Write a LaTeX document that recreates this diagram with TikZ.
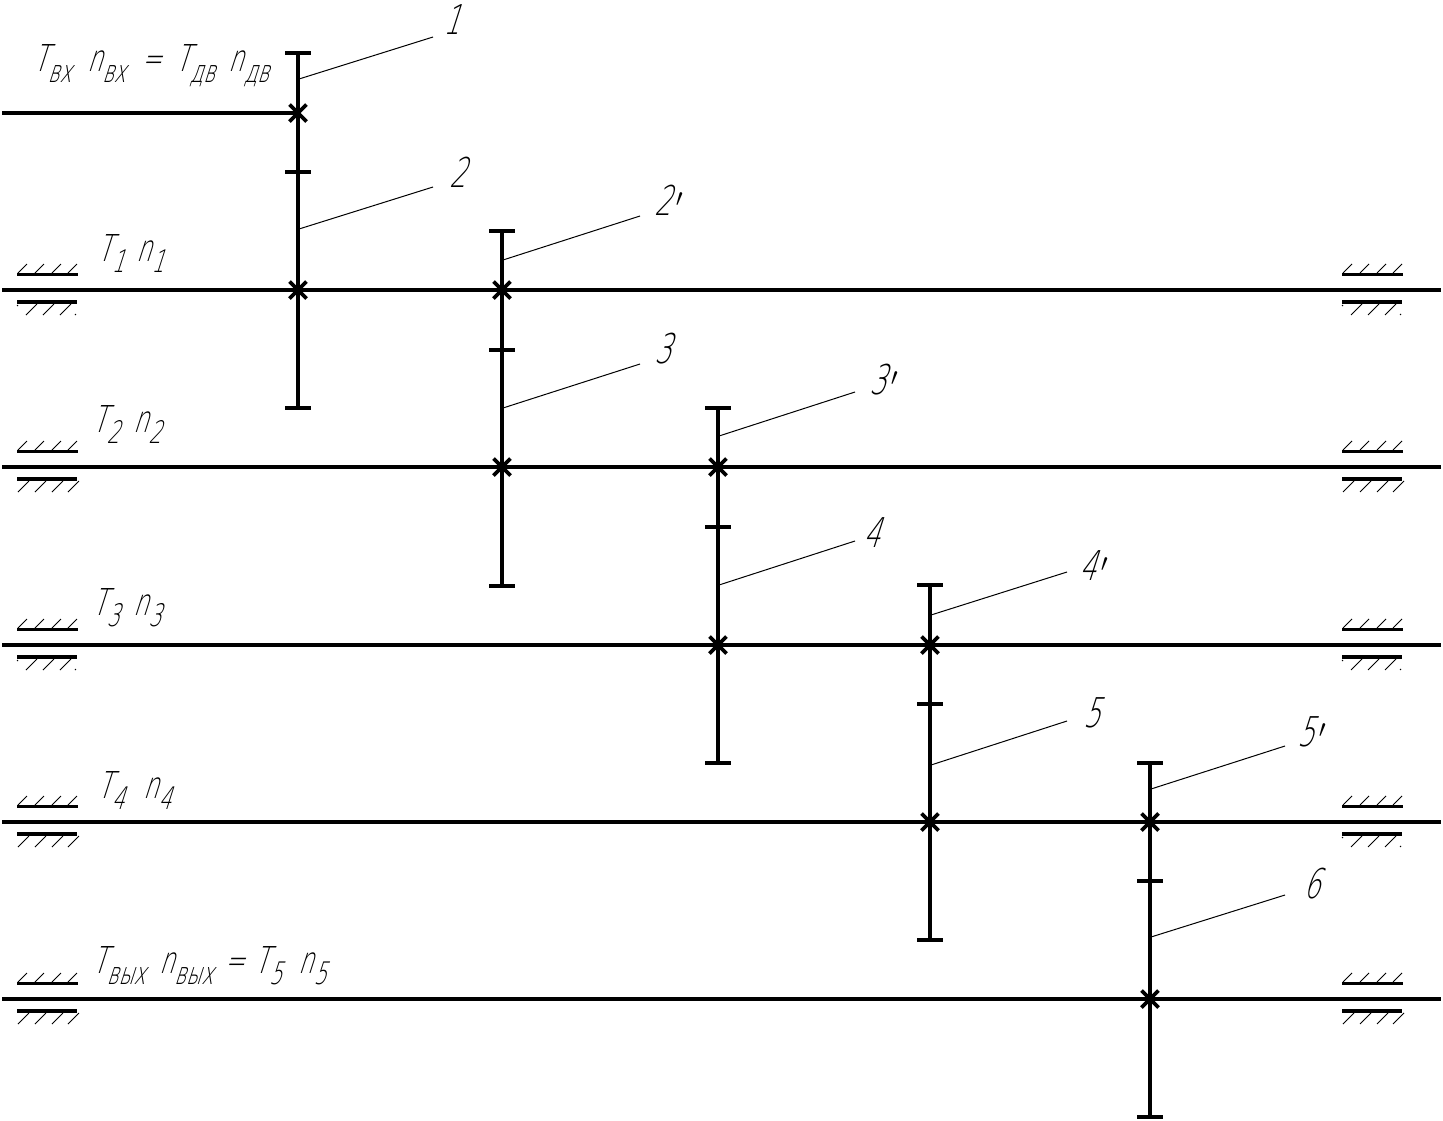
\documentclass[tikz,border=0pt]{standalone}
\usepackage{fontspec}
\newfontfamily\gost[FakeSlant=0.32,FakeStretch=0.64]{DejaVu Sans ExtraLight}
\newcommand{\mainsz}{\fontsize{37}{37}\selectfont}
\newcommand{\subsz}[1]{\raisebox{-11pt}{\fontsize{31}{31}\selectfont #1}}
\newcommand{\prm}{\kern5pt$'$}
\tikzset{
 shaftline/.style={line width=3.4pt},
 gearline/.style={line width=3.4pt},
 crossline/.style={line width=3.8pt},
 leaderline/.style={line width=1pt},
 hatchline/.style={line width=1pt},
 numlabel/.style={font=\gost\fontsize{41}{41}\selectfont,inner sep=0pt,anchor=west},
 shaftlabel/.style={font=\gost\mainsz,inner sep=0pt,anchor=west},
}
% cross mark at a coordinate
\newcommand{\crossmark}[1]{\draw[crossline] ([shift={(-8.5,-8.5)}]#1) -- ([shift={(8.5,8.5)}]#1) ([shift={(-8.5,8.5)}]#1) -- ([shift={(8.5,-8.5)}]#1);}
% gear: name, x, top, tick, bottom, y1
\newcommand{\gear}[6]{%
 \coordinate (#1t) at (#2,#3); \coordinate (#1k) at (#2,#4); \coordinate (#1b) at (#2,#5);
 \coordinate (#1u) at (#2,#6);
 \draw[gearline] (#1t) -- (#1b);
 \draw[gearline] ([xshift=-13pt]#1t) -- ([xshift=13pt]#1t);
 \draw[gearline] ([xshift=-13pt]#1k) -- ([xshift=13pt]#1k);
 \draw[gearline] ([xshift=-13pt]#1b) -- ([xshift=13pt]#1b);
}
% leader: name, start x, start y, end x, end y
\newcommand{\leader}[5]{\coordinate (#1s) at (#2,#3); \coordinate (#1e) at (#4,#5); \draw[leaderline] (#1s) -- (#1e);}
% bearing bars and upper hatching: x left, shaft y
\newcommand{\bearingbase}[2]{%
 \draw[line width=3.2pt] (#1,#2-15.5) -- (#1+61,#2-15.5);
 \draw[line width=3.2pt] (#1,#2+12) -- (#1+60,#2+12);
 \foreach \d in {1,18,35,51}{
  \draw[hatchline] (#1+\d,#2-17) -- (#1+\d+9,#2-26);
 }
}
% lower hatching: four full strokes
\newcommand{\bearingfull}[2]{%
 \bearingbase{#1}{#2}
 \foreach \d in {1,18,35,51}{
  \draw[hatchline] (#1+\d,#2+25) -- (#1+\d+11,#2+14);
 }
}
% lower hatching: three strokes and two specks
\newcommand{\bearingdots}[2]{%
 \bearingbase{#1}{#2}
 \foreach \d in {9,26,43}{
  \draw[hatchline] (#1+\d,#2+25) -- (#1+\d+11,#2+14);
 }
 \draw[hatchline] (#1+1,#2+16) -- (#1,#2+15);
 \draw[hatchline] (#1+58,#2+25) -- (#1+59,#2+24);
}
\begin{document}
\begin{tikzpicture}[x=1pt,y=-1pt]
\useasboundingbox (0,0) rectangle (1443,1120);
\fill[white] (0,0) rectangle (1443,1120);
% shafts
\coordinate (s0a) at (2,113); \coordinate (s0b) at (298,113);
\draw[shaftline] (s0a) -- (s0b);
\foreach \n/\y in {1/290,2/467,3/645,4/822,5/999}{
 \coordinate (s\n a) at (2,\y); \coordinate (s\n b) at (1441,\y);
 \draw[shaftline] (s\n a) -- (s\n b);
}
\bearingdots{17}{290} \bearingfull{17}{467} \bearingdots{17}{645} \bearingfull{17}{822} \bearingfull{17}{999}
\bearingdots{1342}{290} \bearingfull{1342}{467} \bearingdots{1342}{645} \bearingdots{1342}{822} \bearingfull{1342}{999}
% gears
\gear{g1}{298}{53}{172}{408}{113}
\gear{g2}{502}{231}{350}{586}{290}
\gear{g3}{718}{408}{527}{763}{467}
\gear{g4}{930}{585}{704}{940}{645}
\gear{g5}{1150}{763}{881}{1117}{822}
% crosses
\foreach \x/\y in {298/113,298/290,502/290,502/467,718/467,718/645,930/645,930/822,1150/822,1150/999}{
 \coordinate (c) at (\x,\y);
 \crossmark{c}
}
% leaders
\leader{l1}{299}{79}{433}{37}
\leader{l2}{299}{229}{433}{187}
\leader{l2p}{503}{260}{640}{216}
\leader{l3}{503}{408}{640}{364}
\leader{l3p}{719}{436}{855}{392}
\leader{l4}{719}{585}{855}{541}
\leader{l4p}{931}{615}{1067}{572}
\leader{l5}{931}{765}{1067}{721}
\leader{l5p}{1151}{789}{1285}{746}
\leader{l6}{1151}{937}{1285}{895}
% number labels
\node[numlabel] (n1) at (443,20) {1};
\node[numlabel] (n2) at (449,172) {2};
\node[numlabel] (n2p) at (654,200) {2\prm};
\node[numlabel] (n3) at (654,349) {3};
\node[numlabel] (n3p) at (869,380) {3\prm};
\node[numlabel] (n4) at (863,533) {4};
\node[numlabel] (n4p) at (1079,566) {4\prm};
\node[numlabel] (n5) at (1083,713) {5};
\node[numlabel] (n5p) at (1297,732) {5\prm};
\node[numlabel] (n6) at (1303,884) {6};
% shaft labels
\node[shaftlabel] (tin) at (33,66) {T\subsz{вх}\hspace{16pt}n\subsz{вх}\hspace{16pt}=\hspace{14pt}T\subsz{дв}\hspace{14pt}n\subsz{дв}};
\node[shaftlabel] (t1) at (97,254) {T\subsz{1}\hspace{12pt}n\subsz{1}};
\node[shaftlabel] (t2) at (92,425) {T\subsz{2}\hspace{14pt}n\subsz{2}};
\node[shaftlabel] (t3) at (92,608) {T\subsz{3}\hspace{14pt}n\subsz{3}};
\node[shaftlabel] (t4) at (97,790) {T\subsz{4}\hspace{19pt}n\subsz{4}};
\node[shaftlabel] (tout) at (92,966) {T\subsz{вых}\hspace{14pt}n\subsz{вых}\hspace{12pt}=\hspace{10pt}T\subsz{5}\hspace{17pt}n\subsz{5}};
\end{tikzpicture}
\end{document}
